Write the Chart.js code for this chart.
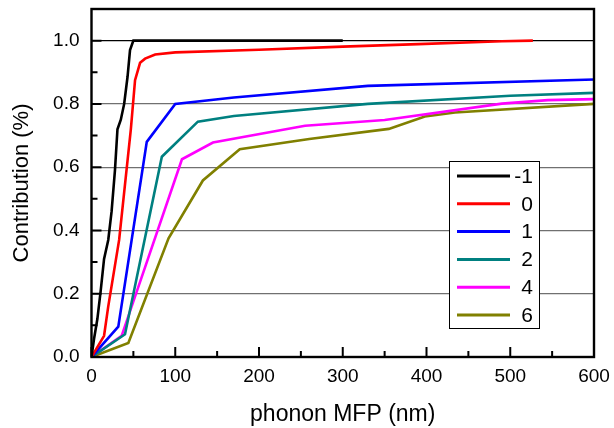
<!DOCTYPE html>
<html>
<head>
<meta charset="utf-8">
<script src="https://cdn.jsdelivr.net/npm/chart.js@4"></script>
<style>
  html, body { margin: 0; padding: 0; background: #fff; }
  #wrap { width: 614px; height: 428px; }
</style>
</head>
<body>
<div id="wrap"><canvas id="chart" width="614" height="428"></canvas></div>
<script>
// series labels and colours
const labels = ['-1', '0', '1', '2', '4', '6'];
const colors = ['#000000', '#ff0000', '#0000ff', '#008080', '#ff00ff', '#808000'];

// phonon MFP (nm) and cumulative contribution
const xNeg1 = [0, 3, 7, 11, 15, 20, 24, 28, 31, 35, 39, 43, 46, 50, 60, 100, 200, 300];
const yNeg1 = [0, 0.057, 0.12, 0.21, 0.31, 0.37, 0.46, 0.59, 0.72, 0.75, 0.80, 0.885, 0.97, 1.0, 1.0, 1.0, 1.0, 1.0];

const x0 = [0, 15, 20, 33, 47, 52, 58, 64, 76, 100, 200, 300, 390, 490, 527];
const y0 = [0, 0.067, 0.16, 0.37, 0.72, 0.875, 0.93, 0.943, 0.956, 0.963, 0.971, 0.981, 0.989, 0.998, 1.0];

const x1 = [0, 32, 66, 100, 170, 330, 600];
const y1 = [0, 0.096, 0.68, 0.80, 0.82, 0.857, 0.877];

const x2 = [0, 40, 84, 127, 170, 330, 500, 600];
const y2 = [0, 0.072, 0.633, 0.744, 0.762, 0.80, 0.826, 0.835];

const x4 = [0, 36, 108, 145, 255, 350, 490, 545, 600];
const y4 = [0, 0.067, 0.625, 0.678, 0.731, 0.749, 0.801, 0.812, 0.815];

const x6 = [0, 44, 92, 133, 177, 260, 355, 398, 434, 600];
const y6 = [0, 0.044, 0.375, 0.558, 0.657, 0.689, 0.721, 0.76, 0.773, 0.80];

// axis ticks
const xMajor = [0, 100, 200, 300, 400, 500, 600];
const xMinor = [50, 150, 250, 350, 450, 550];
const yMajor = [0, 0.2, 0.4, 0.6, 0.8, 1.0];
const yMinor = [0.1, 0.3, 0.5, 0.7, 0.9];

const seriesX = [xNeg1, x0, x1, x2, x4, x6];
const seriesY = [yNeg1, y0, y1, y2, y4, y6];

const datasets = labels.map((lab, i) => ({
  label: lab,
  data: seriesX[i].map((x, j) => ({ x: x, y: seriesY[i][j] })),
  borderColor: colors[i],
  backgroundColor: colors[i],
  borderWidth: 2.6,
  pointRadius: 0,
  tension: 0,
  showLine: true,
  fill: false
}));

const FONT = 'Arial, "Liberation Sans", sans-serif';

// frame, inward ticks and the boxed legend
const framePlugin = {
  id: 'frame',
  afterDatasetsDraw(chart) {
    const { ctx, chartArea: a, scales } = chart;
    ctx.save();
    ctx.strokeStyle = '#000';
    ctx.lineWidth = 2;
    ctx.beginPath();
    xMajor.forEach(v => { const px = scales.x.getPixelForValue(v); ctx.moveTo(px, a.bottom); ctx.lineTo(px, a.bottom - 10); });
    xMinor.forEach(v => { const px = scales.x.getPixelForValue(v); ctx.moveTo(px, a.bottom); ctx.lineTo(px, a.bottom - 6); });
    yMajor.forEach(v => { const py = scales.y.getPixelForValue(v); ctx.moveTo(a.left, py); ctx.lineTo(a.left + 10, py); });
    yMinor.forEach(v => { const py = scales.y.getPixelForValue(v); ctx.moveTo(a.left, py); ctx.lineTo(a.left + 6, py); });
    ctx.stroke();
    ctx.lineWidth = 2.4;
    ctx.strokeRect(a.left, a.top, a.right - a.left, a.bottom - a.top);

    // legend box
    const bx = 449, by = 161, bw = 90, bh = 167;
    ctx.fillStyle = '#fff';
    ctx.fillRect(bx, by, bw, bh);
    ctx.lineWidth = 1;
    ctx.strokeStyle = '#000';
    ctx.strokeRect(bx + 0.5, by + 0.5, bw, bh);
    ctx.font = '21px ' + FONT;
    ctx.textAlign = 'right';
    ctx.textBaseline = 'middle';
    chart.data.datasets.forEach((ds, i) => {
      const ly = by + 15 + i * 27.8;
      ctx.strokeStyle = ds.borderColor;
      ctx.lineWidth = 3;
      ctx.beginPath();
      ctx.moveTo(457, ly);
      ctx.lineTo(510, ly);
      ctx.stroke();
      ctx.fillStyle = '#000';
      ctx.fillText(ds.label, 533, ly + 1);
    });
    ctx.restore();
  }
};

new Chart(document.getElementById('chart'), {
  type: 'scatter',
  data: { datasets: datasets },
  options: {
    responsive: false,
    animation: false,
    layout: { padding: { left: 0, top: 9, right: 20, bottom: 0 } },
    plugins: {
      legend: { display: false },
      tooltip: { enabled: false }
    },
    scales: {
      x: {
        type: 'linear',
        min: 0,
        max: 600,
        afterFit: s => { s.height = 71; s.paddingLeft = 0; s.paddingRight = 0; },
        ticks: {
          stepSize: 100,
          color: '#000',
          font: { family: FONT, size: 19 },
          padding: 8
        },
        grid: { display: false, drawTicks: false },
        border: { display: false },
        title: {
          display: true,
          text: 'phonon MFP (nm)',
          color: '#000',
          font: { family: FONT, size: 23 },
          padding: { top: 2, bottom: 0 }
        }
      },
      y: {
        type: 'linear',
        min: 0,
        max: 1.1,
        afterFit: s => { s.width = 91.5; s.paddingTop = 0; s.paddingBottom = 0; },
        ticks: {
          stepSize: 0.2,
          includeBounds: false,
          color: '#000',
          font: { family: FONT, size: 19 },
          padding: 12,
          callback: v => v.toFixed(1)
        },
        grid: {
          drawTicks: false,
          lineWidth: 1.2,
          color: ctx => (ctx.tick && Math.abs(ctx.tick.value - 1.0) < 1e-6) ? '#000' : '#707070'
        },
        border: { display: false },
        title: {
          display: true,
          text: 'Contribution (%)',
          color: '#000',
          font: { family: FONT, size: 22 },
          padding: { top: 9, bottom: 4 }
        }
      }
    }
  },
  plugins: [framePlugin]
});
</script>
</body>
</html>
